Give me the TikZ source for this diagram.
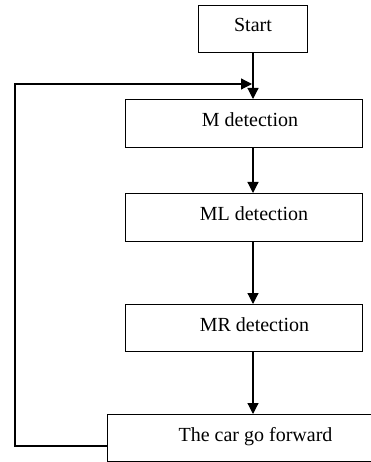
\documentclass[tikz,border=0pt]{standalone}
\usepackage{fontspec}
\setmainfont{Liberation Serif}
\usetikzlibrary{arrows.meta}
\begin{document}
\begin{tikzpicture}[x=1pt,y=-1pt,
  boxstyle/.style={draw=black,line width=1.2pt,inner sep=0pt,anchor=north west},
  lbl/.style={anchor=base,inner sep=0pt,font=\fontsize{20}{24}\selectfont},
  conn/.style={line width=1.2pt,-{Triangle[length=11pt,width=11pt]}},
  plain/.style={line width=1.2pt}]
\useasboundingbox (0,0) rectangle (371,462);
\node[boxstyle,minimum width=109pt,minimum height=47pt] (start) at (198,5) {};
\node[boxstyle,minimum width=237pt,minimum height=48pt] (m) at (125,99) {};
\node[boxstyle,minimum width=237pt,minimum height=48pt] (ml) at (125,193) {};
\node[boxstyle,minimum width=237pt,minimum height=47pt] (mr) at (125,304) {};
\node[boxstyle,minimum width=270pt,minimum height=47pt] (car) at (107,414) {};
\node[lbl] (tstart) at (253,32) {Start};
\node[lbl] (tm) at (250,127) {M detection};
\node[lbl] (tml) at (254,220.5) {ML detection};
\node[lbl] (tmr) at (254.5,331.5) {MR detection};
\node[lbl] (tcar) at (255.5,441.5) {The car go forward};
\coordinate (axis) at (253,0);
\coordinate (backout) at (107,446);
\coordinate (corner1) at (15,446);
\coordinate (corner2) at (15,84);
\coordinate (backin) at (252,84);
\draw[conn] (axis |- start.south) -- (axis |- m.north);
\draw[conn] (axis |- m.south) -- (axis |- ml.north);
\draw[conn] (axis |- ml.south) -- (axis |- mr.north);
\draw[conn] (axis |- mr.south) -- (axis |- car.north);
\draw[conn] (backout) -- (corner1) -- (corner2) -- (backin);
\end{tikzpicture}
\end{document}
